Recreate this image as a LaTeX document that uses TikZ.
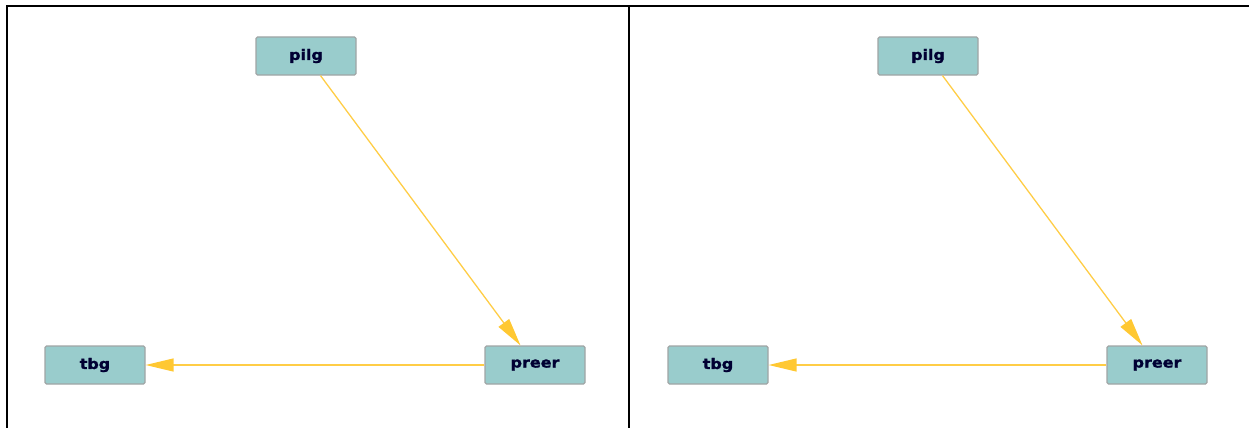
\documentclass[tikz,border=0pt]{standalone}
\usepackage{fontspec}
\newfontfamily\labelfont{DejaVu Sans}[BoldFeatures={FakeBold=1.2}]
\usetikzlibrary{arrows.meta}

\definecolor{boxfill}{RGB}{153,204,204}
\definecolor{boxline}{RGB}{160,165,165}
\definecolor{labelink}{RGB}{0,0,51}
\definecolor{edgeline}{RGB}{255,205,70}
\definecolor{edgehead}{RGB}{255,200,50}

\tikzset{
  vbox/.style={draw=boxline, line width=1.2pt, fill=boxfill, rounded corners=1.5pt,
    minimum width=100pt, minimum height=38pt, inner sep=0pt,
    font=\labelfont\bfseries\fontsize{14.5pt}{14.5pt}\selectfont, text=labelink},
  link/.style={draw=edgeline, line width=1.3pt,
    -{Triangle[length=28pt, width=13pt, color=edgehead, fill=edgehead]}},
  frame/.style={draw=black, line width=2pt}
}
\newcommand{\wlab}[1]{\scalebox{1.1}[1]{\raisebox{-2.5pt}{#1}}}

\begin{document}
\begin{tikzpicture}[x=1pt, y=-1pt]
  \useasboundingbox (0,0) rectangle (1249,428);

  % panel frame lines
  \coordinate (tl) at (6,6.5);
  \coordinate (tr) at (1249,6.5);
  \coordinate (lt) at (7,5.5);
  \coordinate (bl) at (7,428);
  \coordinate (mt) at (629,6.5);
  \coordinate (mb) at (629,428);
  \draw[frame] (tl) -- (tr);
  \draw[frame] (lt) -- (bl);
  \draw[frame] (mt) -- (mb);

  % left panel
  \node[vbox] (pilgA)  at (306,56)  {\wlab{pilg}};
  \node[vbox] (preerA) at (535,365) {\wlab{preer}};
  \node[vbox] (tbgA)   at (95,365)  {\wlab{tbg}};
  \draw[link] (pilgA) -- (preerA);
  \draw[link] (preerA) -- (tbgA);

  % right panel
  \node[vbox] (pilgB)  at (928,56)  {\wlab{pilg}};
  \node[vbox] (preerB) at (1157,365) {\wlab{preer}};
  \node[vbox] (tbgB)   at (718,365)  {\wlab{tbg}};
  \draw[link] (pilgB) -- (preerB);
  \draw[link] (preerB) -- (tbgB);
\end{tikzpicture}
\end{document}
